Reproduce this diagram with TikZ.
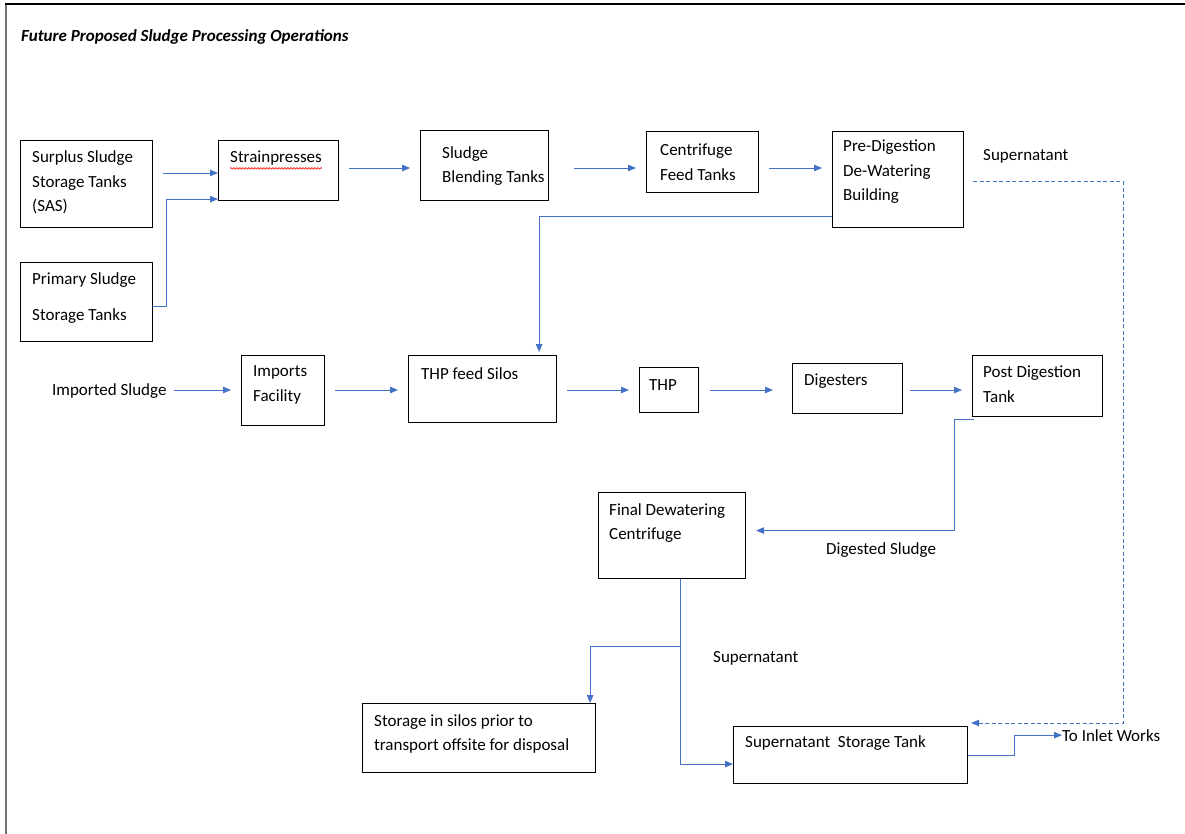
\documentclass[tikz,border=0pt]{standalone}
\usepackage{fontspec}
\setmainfont{Carlito}
\usepackage{tikz}
\usetikzlibrary{arrows.meta,calc,decorations.pathmorphing}
\definecolor{flowblue}{RGB}{68,114,196}

\tikzset{
	proc/.style={draw=black, line width=1.1pt, anchor=north west, inner sep=0pt},
	txt/.style={anchor=north west, inner sep=0pt, align=left, font=\fontsize{17}{24.5}\selectfont},
	lbl/.style={anchor=base west, inner sep=0pt, font=\fontsize{17}{20}\selectfont},
	flow/.style={draw=flowblue, line width=0.9pt, -{Triangle[length=8pt,width=6.5pt]}},
}

% box with its text set in the top left corner
\newcommand{\procbox}[7][12,10.5]{%
	\node[proc, minimum width=#5pt, minimum height=#6pt] (#2) at (#3,#4) {};
	\node[txt] (#2-t) at ($(#2.north west)+(#1)$) {#7};}

\begin{document}
\begin{tikzpicture}[x=1pt, y=-1pt]
	\useasboundingbox (0,0) rectangle (1185,834);
	\draw[black!55, line width=1.6pt] (6,834) -- (6,4);
	\draw[black, line width=1.2pt] (5,4) -- (1185,4);
	\node[lbl, font=\fontsize{17}{20}\selectfont\bfseries\itshape] (title) at (21,42) {Future Proposed Sludge Processing Operations};

	% top row
	\procbox{sas}{20}{140}{132}{87}{Surplus Sludge\\Storage Tanks\\(SAS)}
	\procbox{prim}{20}{262}{132}{79}{Primary Sludge\\[11.5pt]Storage Tanks}
	\procbox{strain}{218}{140}{120}{60}{Strainpresses}
	\procbox[22,16]{blend}{420}{130}{128}{70}{Sludge\\Blending Tanks}
	\procbox[14,13]{cfeed}{646}{131}{112}{61}{Centrifuge\\Feed Tanks}
	\procbox[11,9]{predig}{832}{131}{131}{96}{Pre-Digestion\\De-Watering\\Building}
	\draw[red, line width=0.6pt, decorate, decoration={snake, amplitude=0.8pt, segment length=3pt}]
		($(strain-t.base west)+(0,6)$) -- ($(strain-t.base east)+(0,6)$);

	% middle row
	\node[lbl] (imp) at (52,395) {Imported Sludge};
	\procbox{imports}{241}{355}{83}{70}{Imports\\Facility}
	\procbox[13,12]{silos}{408}{355}{148}{67}{THP feed Silos}
	\procbox[10,12]{thp}{639}{367}{59}{45}{THP}
	\procbox{dig}{792}{363}{110}{50}{Digesters}
	\procbox[11,11]{post}{972}{355}{130}{61}{Post Digestion\\Tank}

	% bottom part
	\procbox[11,11]{final}{598}{492}{147}{86}{Final Dewatering\\Centrifuge}
	\procbox[12,11]{store}{362}{703}{233}{69}{Storage in silos prior to\\transport offsite for disposal}
	\procbox[12,9]{sst}{733}{726}{234}{57}{Supernatant~ Storage Tank}

	\node[lbl] (sup1) at (983,161) {Supernatant};
	\node[lbl] (dsl) at (826,554) {Digested Sludge};
	\node[lbl] (sup2) at (713,662) {Supernatant};
	\node[lbl] (inlet) at (1062,741) {To Inlet Works};

	\coordinate (r1) at (0,168);
	\coordinate (r2) at (0,390);

	\draw[flow] ($(sas.east|-r1)+(10,5)$) -- ($(strain.west|-r1)+(0,5)$);
	\draw[flow] ($(prim.east)+(0,4)$) -- ++(13,0) |- ($(strain.south west)+(0,-2)$);
	\draw[flow] ($(strain.east|-r1)+(10,0)$) -- ($(blend.west|-r1)+(-10,0)$);
	\draw[flow] ($(blend.east|-r1)+(25,0)$) -- ($(cfeed.west|-r1)+(-10,0)$);
	\draw[flow] ($(cfeed.east|-r1)+(10,0)$) -- ($(predig.west|-r1)+(-10,0)$);

	\draw[flow] ($(imp.east|-r2)+(7,0)$) -- ($(imports.west|-r2)+(-10,0)$);
	\draw[flow] ($(imports.east|-r2)+(10,0)$) -- ($(silos.west|-r2)+(-10,0)$);
	\draw[flow] ($(silos.east|-r2)+(10,0)$) -- ($(thp.west|-r2)+(-10,0)$);
	\draw[flow] ($(thp.east|-r2)+(11,0)$) -- ($(dig.west|-r2)+(-19,0)$);
	\draw[flow] ($(dig.east|-r2)+(7,0)$) -- ($(post.west|-r2)+(-10,0)$);

	\draw[flow] ($(predig.south west)+(0,-12)$) -| ($(silos.north east)+(-18,-3)$);
	\draw[flow] ($(post.south west)+(2,2)$) -- ++(-20,0) |- ($(final.east)+(10,-5)$);

	\coordinate (split) at ($(final.south west)+(82,67)$);
	\draw[flow] ($(final.south west)+(82,0)$) -- (split) -| ($(store.north east)+(-6,0)$);
	\draw[flow] (split) |- ($(sst.south west)+(0,-20)$);

	\draw[flow, dash pattern=on 4pt off 2.5pt] ($(predig.east)+(9,2)$) -| ($(sst.north east)+(155,-3)$) -- ($(sst.north east)+(3,-3)$);
	\draw[flow] (sst.east) -- ++(46,0) |- (inlet.west);
\end{tikzpicture}
\end{document}
